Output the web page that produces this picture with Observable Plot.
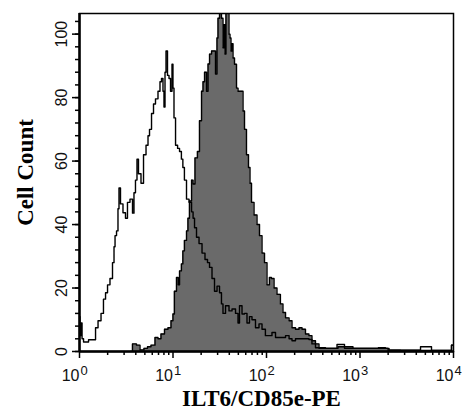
<!DOCTYPE html>
<html><head><meta charset="utf-8">
<script src="https://cdn.jsdelivr.net/npm/d3@7"></script>
<script src="https://cdn.jsdelivr.net/npm/@observablehq/plot@0.6"></script>
<style>
html,body{margin:0;padding:0;background:#fff;}
#chart svg{display:block;}
</style></head><body><div id="chart"></div>
<script>
// Isotype control (open histogram)
const isoX = [1,1.025,1.05,1.08,1.13,1.22,1.28,1.45,1.52,1.64,
1.76,1.85,1.95,2.04,2.20,2.31,2.37,2.43,2.55,2.61,
2.68,2.81,3.03,3.18,3.34,3.60,3.78,3.87,4.07,4.17,
4.38,4.72,4.96,5.34,5.47,5.75,6.04,6.34,6.66,7.17,
7.35,7.72,7.91,8.11,8.32,8.52,8.95,9.18,9.64,9.88,
10.1,10.4,10.9,11.5,12.0,12.6,12.9,13.6,14.3,15.4,
16.2,16.6,17.4,18.3,19.7,21.2,22.8,24.0,25.2,27.1,
28.5,30.7,32.2,33.8,34.7,38.3,41.2,44.4,49.0,50.2,
52.7,56.8,59.6,64.2,67.4,72.6,80.1,86.3,92.9,102,
110,119,131,152,168,181,194,215,249,274,
295,318,351,378,484,666,700,1010,1390,1780,
1970,2120,3470,5680,5960,9290,9760,10000];
const isoCount = [11,5,9,4,3,3,3.7,3.7,7.5,9.7,
12,16.5,18.5,21,23,28,33,36.5,38,45,
51.5,46.5,43.7,42,47,48,43.6,50,54,60.6,
56,53,62,65,68,70,75,78,79.6,82,
85,86,82,77,88,94.7,87,86,82,90.5,
83,73.6,65,64,63,60.6,58,54,48,47,
44,42,39,36,34,31,29,28,26.5,23,
19,20.6,18.5,15,12,14.4,12.8,13.4,12,9,
14.4,11.8,12,9,11,10,7.5,8.7,7,5,
5,6,4.4,4.4,5,4,3.4,4,4,4,
3.8,2.4,1.2,1,1,2.2,1,1,1,1.2,
1,0.4,0.3,1.5,0.3,0.3,2,2];
// ILT6/CD85e-PE stained (filled histogram)
const posX = [3.51,3.87,4.28,4.60,5.21,5.47,6.19,6.66,7.17,7.72,
8.52,9.18,9.88,10.1,10.6,11.2,11.5,12.0,12.6,12.9,
13.6,14.3,14.6,15.4,16.2,16.6,17.8,18.7,19.7,20.7,
21.2,22.3,23.4,24.0,25.2,26.5,27.8,29.2,29.9,30.7,
32.2,33.8,34.7,35.5,36.4,37.3,39.2,40.2,41.2,42.2,
43.3,44.4,46.6,49.0,50.2,55.4,56.8,59.6,62.6,65.8,
67.4,70.9,76.3,82.1,86.3,92.9,97.6,105,110,116,
125,134,148,152,168,181,194,215,231,249,
274,295,318,351,378,484,700,1010,1870,2120,
9290,9760];
const posCount = [0,2.4,2,0.5,1,1.5,2,4.4,4,5.5,
7,7.5,9.7,11.8,19,23.3,21,25.4,27.6,31.7,
35,38,42,47.4,54,52.8,61,63,72.7,82,
85,88,82,90.6,93.7,94.7,94.7,87.4,98.8,105,
110,105,95.7,103,93.7,110,110,100,98.8,94.7,
97,92.5,90.5,83,82,82,75.8,70,62,58,
53,47,43,40,36.5,31,28,21,23.3,23,
20,18,15,12.3,10.6,9.7,7.5,7,7.5,7,
5.5,5,3.4,2.4,1.2,1,1.5,1,1,0.4,
0.3,2];

const xMajor = [1,10,100,1000,10000];
const xExponent = ["0","1","2","3","4"];
const xMinor = [2,3,4,5,6,7,8,9,20,30,40,50,60,70,80,90,200,300,400,500,600,700,800,900,2000,3000,4000,5000,6000,7000,8000,9000];
const yMajor = [0,20,40,60,80,100];
const yMinor = [0,4,8,12,16,20,24,28,32,36,40,44,48,52,56,60,64,68,72,76,80,84,88,92,96,100,104];
const xTitle = "ILT6/CD85e-PE";
const yTitle = "Cell Count";

const iso = isoX.map((x, i) => ({x, y: isoCount[i]}));
const pos = posX.map((x, i) => ({x, y: posCount[i]}));

const tickFont = '"Liberation Sans Narrow","Arial Narrow","Liberation Sans",Arial,sans-serif';
const titleFont = '"Liberation Serif","Times New Roman",serif';

const chart = Plot.plot({
  width: 462, height: 410,
  marginLeft: 79, marginRight: 9, marginTop: 13, marginBottom: 59,
  x: {type: "log", domain: [1, 10000]},
  y: {domain: [0, 106.5]},
  style: {background: "#fff", overflow: "visible"},
  marks: [
    Plot.areaY(pos, {x: "x", y: "y", curve: "step", fill: "#6a6a6a", clip: true}),
    Plot.lineY(pos, {x: "x", y: "y", curve: "step", stroke: "#000", strokeWidth: 1.4, clip: true}),
    Plot.lineY(iso, {x: "x", y: "y", curve: "step", stroke: "#000", strokeWidth: 1.4, clip: true}),
    Plot.frame({stroke: "#000", strokeWidth: 1.5}),
    Plot.ruleX([1], {stroke: "#000", strokeWidth: 2.5}),
    Plot.ruleY([0], {stroke: "#000", strokeWidth: 2.5}),
    Plot.axisX(xMinor, {tickSize: 4, tickFormat: () => "", label: null, strokeWidth: 1.5, stroke: "#000"}),
    Plot.axisX(xMajor, {tickSize: 7, tickFormat: () => "", label: null, strokeWidth: 1.5, stroke: "#000"}),
    Plot.axisY(yMinor, {tickSize: 4, tickFormat: () => "", label: null, strokeWidth: 1.5, stroke: "#000"}),
    Plot.axisY(yMajor, {tickSize: 7, tickFormat: () => "", label: null, strokeWidth: 1.5, stroke: "#000"}),
    Plot.text(xMajor, {x: d => d, text: () => "10", frameAnchor: "bottom", textAnchor: "end", lineAnchor: "bottom", dy: 29, fontSize: 16, fontFamily: tickFont, fill: "#111"}),
    Plot.text(xMajor, {x: d => d, text: (d, i) => xExponent[i], frameAnchor: "bottom", textAnchor: "start", lineAnchor: "bottom", dx: 1, dy: 23, fontSize: 13, fontFamily: tickFont, fill: "#111"}),
    Plot.text(yMajor, {y: d => d, text: d => String(d), frameAnchor: "left", rotate: -90, textAnchor: "middle", lineAnchor: "middle", dx: -18, fontSize: 16, fontFamily: tickFont, fill: "#111"}),
    Plot.text([yTitle], {text: d => d, frameAnchor: "left", rotate: -90, textAnchor: "middle", lineAnchor: "bottom", dx: -47, dy: -10, fontSize: 23, fontWeight: "bold", fontFamily: titleFont, fill: "#000"}),
    Plot.text([xTitle], {text: d => d, frameAnchor: "bottom", textAnchor: "middle", lineAnchor: "bottom", dx: -5, dy: 54, fontSize: 23, fontWeight: "bold", fontFamily: titleFont, fill: "#000"})
  ]
});
document.getElementById("chart").append(chart);
</script></body></html>
